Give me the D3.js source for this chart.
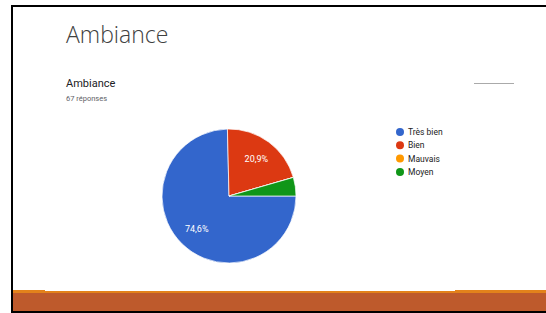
<!DOCTYPE html>
<html>
<head>
<meta charset="utf-8">
<script src="https://cdn.jsdelivr.net/npm/d3@7/dist/d3.min.js"></script>
<style>
  html, body { margin: 0; padding: 0; background: #fff; }
  svg { display: block; }
</style>
</head>
<body>
<div id="chart"></div>
<script>
var categories = ["Très bien", "Bien", "Mauvais", "Moyen"];
var counts = [50, 14, 0, 3];
var colors = ["#3366cc", "#dc3912", "#ff9900", "#109618"];
var total = 67;

var W = 546, H = 313;
var svg = d3.select("#chart").append("svg")
    .attr("width", W)
    .attr("height", H);

// slide frame
svg.append("rect").attr("x", 0).attr("y", 0).attr("width", W).attr("height", H).style("fill", "#fff");
svg.append("rect").attr("x", 11).attr("y", 5).attr("width", W - 11).attr("height", H - 5).style("fill", "#000");
svg.append("rect").attr("x", 13).attr("y", 7).attr("width", W - 13).attr("height", H - 9).style("fill", "#fff");

// bottom band (orange strip is a bit taller at both ends)
svg.append("rect").attr("x", 13).attr("y", 290).attr("width", 32).attr("height", 21).style("fill", "#e3821b");
svg.append("rect").attr("x", 455).attr("y", 290).attr("width", W - 455).attr("height", 21).style("fill", "#e3821b");
svg.append("rect").attr("x", 13).attr("y", 291).attr("width", W - 13).attr("height", 20).style("fill", "#e3821b");
svg.append("rect").attr("x", 13).attr("y", 293).attr("width", W - 13).attr("height", 18).style("fill", "#be5a2c");

// titles
svg.append("text").attr("x", 66).attr("y", 43)
    .style("font-family", "'Open Sans', sans-serif")
    .style("font-weight", 300)
    .style("font-size", "23px")
    .style("fill", "#404040")
    .text("Ambiance");

svg.append("text").attr("x", 66).attr("y", 87)
    .style("font-family", "Roboto, sans-serif")
    .style("font-size", "11px")
    .style("fill", "#202124")
    .text("Ambiance");

svg.append("text").attr("x", 66).attr("y", 101)
    .style("font-family", "Roboto, sans-serif")
    .style("font-size", "7.5px")
    .style("fill", "#5f6368")
    .text(total + " réponses");

svg.append("line").attr("x1", 474).attr("x2", 514).attr("y1", 83.5).attr("y2", 83.5)
    .style("stroke", "#aaaaaa").style("stroke-width", 1);

// pie
var cx = 229, cy = 196, r = 67;
var pie = d3.pie().sort(null)
    .startAngle(Math.PI / 2)
    .endAngle(Math.PI / 2 + 2 * Math.PI);
var arcs = pie(counts);
var arc = d3.arc().innerRadius(0).outerRadius(r);
var labelArc = d3.arc().innerRadius(r * 0.69).outerRadius(r * 0.69);

var g = svg.append("g").attr("transform", "translate(" + cx + "," + cy + ")");
g.selectAll("path").data(arcs).enter().append("path")
    .attr("d", arc)
    .style("fill", function(d, i) { return colors[i]; })
    .style("stroke", "#fff")
    .style("stroke-width", 0.7);

g.selectAll("text").data(arcs.filter(function(d) { return d.data / total > 0.1; }))
    .enter().append("text")
    .attr("transform", function(d) { return "translate(" + labelArc.centroid(d) + ")"; })
    .attr("text-anchor", "middle")
    .attr("dy", "0.35em")
    .style("font-family", "Roboto, sans-serif")
    .style("font-size", "9px")
    .style("fill", "#fff")
    .text(function(d) { return (d.data / total * 100).toFixed(1).replace(".", ",") + "%"; });

// legend
var legend = svg.append("g").attr("transform", "translate(400,132)");
var items = legend.selectAll("g").data(categories).enter().append("g")
    .attr("transform", function(d, i) { return "translate(0," + (i * 13.3) + ")"; });
items.append("circle").attr("r", 4).style("fill", function(d, i) { return colors[i]; });
items.append("text").attr("x", 8).attr("dy", "0.35em")
    .style("font-family", "Roboto, sans-serif")
    .style("font-size", "8.5px")
    .style("fill", "#222")
    .text(function(d) { return d; });
</script>
</body>
</html>
